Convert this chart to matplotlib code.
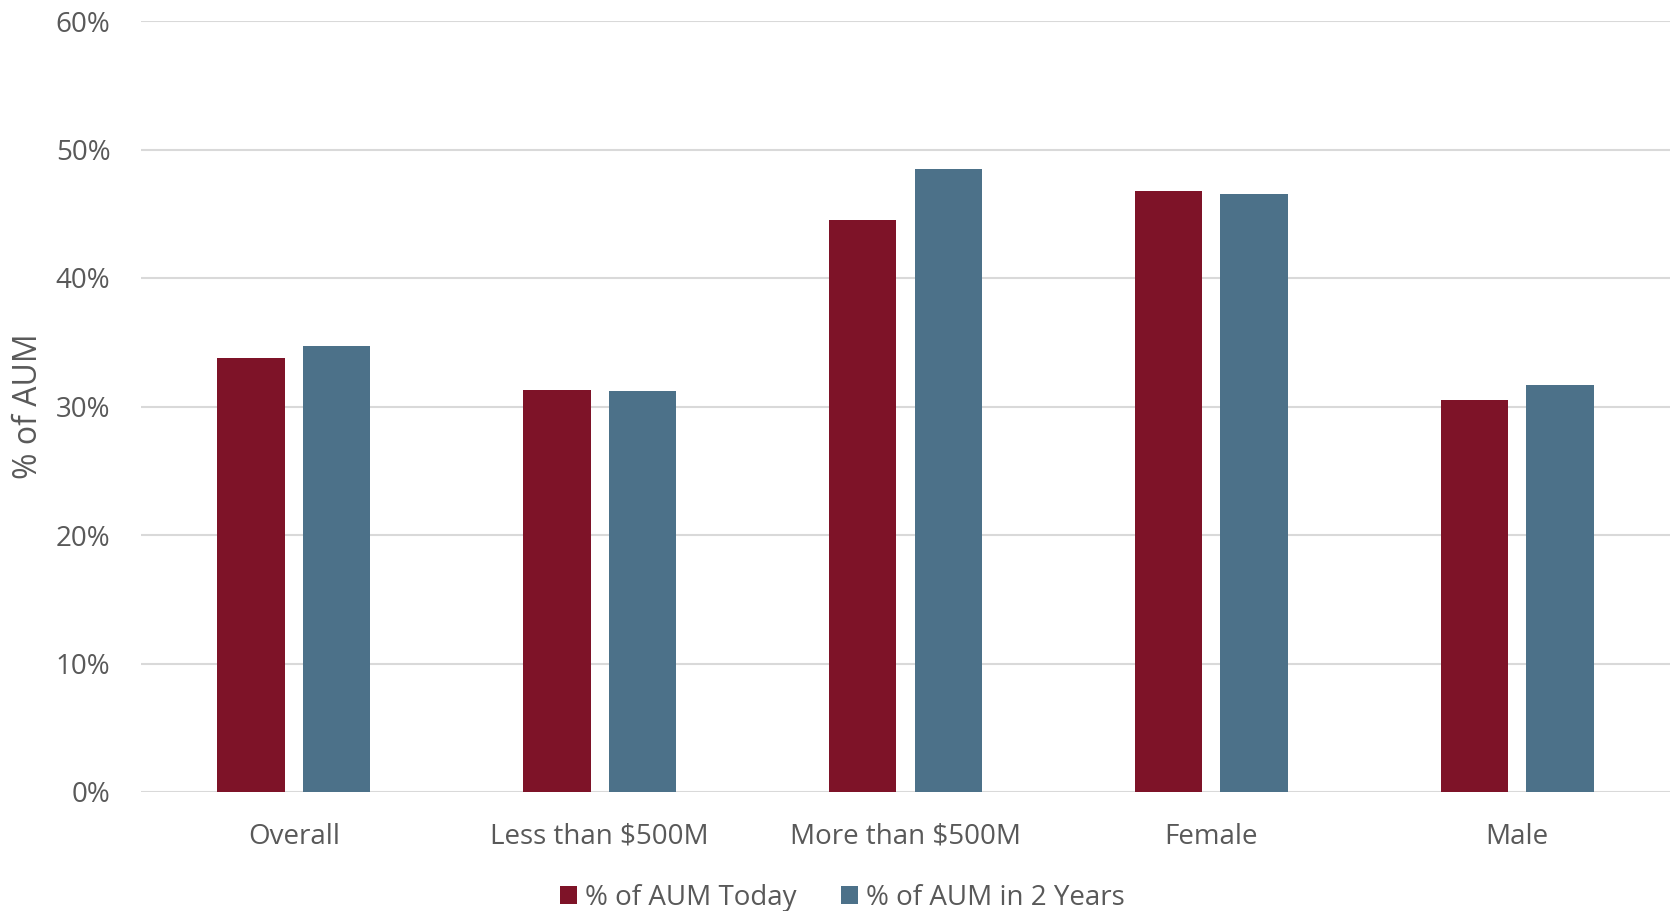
import matplotlib.pyplot as plt
import numpy as np
from matplotlib.ticker import FuncFormatter

categories = ['Overall', 'Less than $500M', 'More than $500M', 'Female', 'Male']
aum_today = [33.8, 31.3, 44.5, 46.8, 30.5]
aum_2yrs = [34.7, 31.2, 48.5, 46.5, 31.7]
series_names = ['% of AUM Today', '% of AUM in 2 Years']

red = '#7E1328'
blue = '#4C7189'
txt = '#595959'

plt.rcParams['font.family'] = ['Open Sans', 'DejaVu Sans']

fig = plt.figure(figsize=(16.75, 9.11), dpi=100)
ax = fig.add_axes([141/1675, 1-792/911, 1529/1675, (792-21)/911])

x = np.arange(len(categories))
w = 0.22
gap = 0.06
ax.bar(x - (w+gap)/2, aum_today, w, color=red, label=series_names[0], zorder=3)
ax.bar(x + (w+gap)/2, aum_2yrs, w, color=blue, label=series_names[1], zorder=3)

ax.set_xlim(-0.5, len(categories)-0.5)
ax.set_ylim(0, 60)
ax.set_yticks(np.arange(0, 61, 10))
ax.yaxis.set_major_formatter(FuncFormatter(lambda v, p: f'{v:.0f}%'))
ax.set_xticks(x)
ax.set_xticklabels(categories)
ax.grid(axis='y', color='#D9D9D9', linewidth=1.5, zorder=0)
for s in ax.spines.values():
    s.set_visible(False)
ax.tick_params(length=0, labelsize=20, colors=txt, pad=22)
ax.tick_params(axis='y', pad=22)
ax.set_ylabel('% of AUM', fontsize=23, color=txt, labelpad=8)

fig.legend(loc='center', bbox_to_anchor=(0.503, 1-898/911), ncol=2, frameon=False,
           fontsize=20, labelcolor=txt, handlelength=0.6, handleheight=0.6,
           handletextpad=0.3, columnspacing=1.6)

fig.savefig('out.png', dpi=100)
